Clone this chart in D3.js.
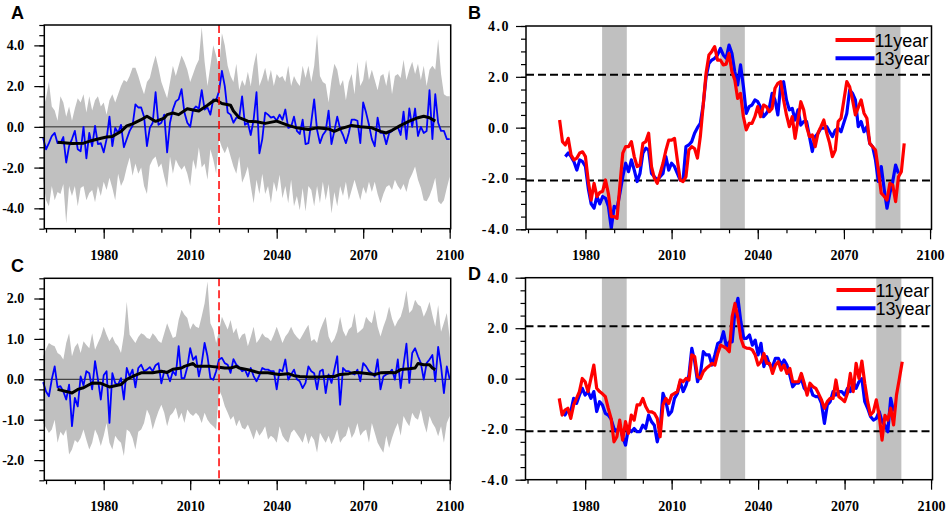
<!DOCTYPE html>
<html>
<head>
<meta charset="utf-8">
<script src="https://cdn.jsdelivr.net/npm/d3@7"></script>
<style>
  body { margin: 0; background: #fff; }
  svg { display: block; }
</style>
</head>
<body>
<div id="chart"></div>
<script>
const width = 948;
const height = 513;

// ---- panels A and C : annual values 1959-2100 ----
const firstYearAC = 1959;

const blueA = [
  -0.55,
  -1.1, -0.8, -0.45, -0.3, -0.8, -0.8, -0.5, -1.75, -0.95, -0.6,   // 1960s
  -0.2, -1.1, -1.2, 0.0, -1.55, -0.3, -0.95, 0.05, -0.85, -0.8,    // 1970s
  -1.25, -0.6, 0.5, -0.95, -0.05, -0.3, 0.1, -1.0, -0.6, -0.2,     // 1980s
  0.05, 1.1, 0.95, 0.95, 0.5, -0.95, -0.05, 0.2, 1.7, 0.1,         // 1990s
  0.2, 0.6, -1.25, 0.2, 0.85, 1.25, 1.35, 1.85, 0.7, 0.2,          // 2000s
  0.0, 0.85, 1.0, 0.9, 1.8, 0.85, 0.95, 0.6, 1.35, 1.3,            // 2010s
  1.75, 2.75, 2.0, 0.7, 0.6, 0.2, 0.45, 0.45, 1.5, 0.1,            // 2020s
  0.2, -0.4, 0.35, 1.7, -1.3, -0.6, 0.7, 0.6, 0.45, 0.5,           // 2030s
  0.3, 0.6, 0.35, 0.85, -0.05, 0.0, 0.5, -0.2, -0.35, 0.35,        // 2040s
  -0.85, -0.8, 0.25, 1.35, -0.15, -0.8, -0.4, -0.2, 0.8, -0.85,    // 2050s
  -0.2, 0.5, -0.1, -0.4, -0.8, -0.3, 0.35, 0.35, 0.3, -0.8,        // 2060s
  1.2, 0.7, 0.1, -0.6, -0.95, 0.45, -0.3, -0.3, -0.85, -0.3,       // 2070s
  -0.2, -0.1, 0.0, -0.4, 0.75, -0.6, 0.9, 0.0, 0.9, -0.45,         // 2080s
  0.0, -0.3, -0.2, 1.8, -0.6, 1.6, 0.2, -0.2, -0.2, -0.6,          // 2090s
  -0.6
];

const upperA = [
  0.9,
  1.4, 2.2, 1.0, 0.8, 0.3, 1.5, 1.2, 0.5, 1.0, 0.3,
  0.9, 1.4, 1.2, 1.6, 0.7, 1.5, 0.8, 1.3, 1.5, 1.0,
  1.2, 0.6, 1.3, 1.6, 1.2, 1.6, 2.0, 2.3, 2.2, 2.5,
  2.9, 2.9, 2.5, 2.0, 1.6, 2.2, 2.4, 3.0, 3.5, 2.9,
  2.2, 1.8, 1.4, 2.2, 3.0, 2.5, 3.0, 3.5, 3.2, 2.8,
  2.2, 2.6, 3.0, 3.3, 4.9, 3.2, 2.0, 3.0, 4.0, 3.5,
  2.8, 4.6, 4.0, 3.0, 2.5, 2.2, 3.1, 1.8, 2.3, 2.0,
  2.7, 2.0, 3.0, 3.65, 2.0, 2.4, 2.9, 2.2, 2.8, 2.0,
  2.6, 2.4, 2.5, 2.2, 3.0, 2.0, 2.5, 2.2, 2.0, 3.0,
  2.4, 3.0, 2.2, 3.0, 4.55, 2.5, 2.2, 2.1, 1.2, 2.3,
  3.1, 2.8, 2.0, 2.3, 1.3, 2.2, 2.6, 1.6, 3.2, 2.0,
  2.3, 3.3, 2.3, 2.8, 2.3, 1.8, 2.5, 2.6, 2.0, 2.8,
  1.6, 2.5, 2.6, 2.4, 3.3, 2.3, 2.8, 3.2, 2.6, 3.1,
  2.3, 3.0, 2.0, 2.8, 3.0, 2.8, 4.3, 2.6, 1.6, 1.5,
  1.5
];

const lowerA = [
  -2.6,
  -3.6, -3.9, -2.9, -3.6, -3.2, -3.3, -2.8, -4.75, -2.9, -3.4,
  -2.9, -3.9, -3.0, -2.9, -3.6, -3.25, -3.1, -3.7, -2.9, -3.4,
  -2.7, -3.1, -2.5, -3.0, -3.6, -2.3, -2.9, -2.6, -2.0, -1.5,
  -2.4, -1.8, -2.3, -2.0, -2.9, -3.3, -1.9, -1.6, -1.45, -2.0,
  -1.8, -2.45, -3.0, -1.45, -2.3, -1.6, -1.9, -2.1, -1.9, -2.3,
  -2.9, -1.6, -2.1, -1.0, -2.0, -1.8, -2.6, -1.1, -1.6, -2.3,
  -0.6, -1.0, -1.3, -0.95, -1.45, -1.95, -2.3, -1.45, -2.75, -2.4,
  -1.95, -2.9, -3.75, -2.6, -3.3, -2.3, -3.3, -2.9, -3.75, -2.7,
  -3.2, -2.35, -3.5, -2.9, -3.75, -2.6, -3.9, -3.4, -4.1, -3.0,
  -4.15, -2.9, -3.1, -3.9, -2.9, -3.75, -2.7, -3.6, -2.8, -4.25,
  -3.2, -3.9, -2.9, -3.4, -2.7, -3.6, -3.1, -2.6, -3.1, -3.6,
  -2.95, -3.3, -2.7, -3.2, -2.7, -3.3, -3.75, -3.3, -2.95, -2.85,
  -3.1, -2.6, -2.9, -3.1, -2.8, -3.2, -2.6, -2.3, -1.95, -2.6,
  -3.0, -3.6, -3.65, -3.4, -3.0, -2.5, -3.65, -3.8, -3.6, -3.0,
  -2.45
];

const smoothYearsA = [1964, 1966, 1969, 1973, 1975, 1978, 1981, 1983, 1986, 1988,
  1990, 1993, 1995, 1997, 1998, 2001, 2002, 2004, 2006, 2009,
  2011, 2013, 2016, 2018, 2019, 2021, 2024, 2025, 2027, 2030,
  2033, 2036, 2040, 2044, 2047, 2051, 2054, 2058, 2060, 2062,
  2066, 2069, 2073, 2076, 2078, 2080, 2083, 2086, 2089, 2091,
  2093, 2095];
const smoothA = [-0.76, -0.78, -0.82, -0.8, -0.71, -0.6, -0.5, -0.47, -0.23, 0.05,
  0.15, 0.35, 0.52, 0.35, 0.27, 0.43, 0.6, 0.68, 0.6, 0.89,
  0.83, 0.78, 1.06, 1.27, 1.32, 1.15, 1.06, 0.78, 0.45, 0.28,
  0.25, 0.17, 0.28, 0.07, -0.05, -0.13, -0.05, -0.1, -0.22, -0.1,
  0.07, 0.0, -0.05, -0.22, -0.3, -0.17, 0.07, 0.28, 0.45, 0.52,
  0.45, 0.28];

const blueC = [
  -0.07,
  -0.3, -0.42, 0.0, 0.32, -0.2, -0.17, -0.3, -0.5, -0.13, -1.16,
  -0.46, -0.67, 0.07, -0.15, 0.2, 0.15, -0.25, 0.45, 0.0, -0.5,
  0.1, 0.2, -1.08, 0.15, -0.1, -0.13, 0.03, -0.5, 0.28, 0.07,
  0.24, -0.2, 0.28, 0.36, 0.2, 0.24, 0.3, 0.2, 0.35, 0.4,
  -0.1, 0.2, 0.15, -0.05, 0.2, 0.1, 0.82, 0.03, 0.03, 0.3,
  0.77, 0.48, 0.57, 0.07, 0.4, 0.9, 0.57, 0.03, -0.01, 0.2,
  0.49, 0.53, 0.4, 0.36, 0.16, 0.5, 0.36, 0.3, 0.2, 0.24,
  0.07, 0.28, 0.08, -0.05, 0.1, 0.28, 0.24, 0.24, 0.2, 0.2,
  -0.25, 0.24, 0.2, 0.49, -0.01, 0.12, 0.24, 0.0, -0.05, -0.22,
  -0.09, 0.32, 0.2, 0.15, -0.25, 0.2, 0.24, -0.34, 0.12, -0.09,
  0.24, 0.57, -0.63, 0.28, 0.2, 0.2, 0.15, 0.12, 0.24, -0.05,
  0.4, 0.32, 0.2, 0.15, 0.07, 0.49, -0.25, 0.07, 0.12, 0.15,
  0.24, -0.01, 0.49, -0.22, 0.36, 0.88, -0.09, 0.65, 0.77, 0.57,
  0.4, -0.01, 0.4, 0.49, 0.6, -0.05, 0.8, 0.32, -0.34, 0.32,
  0.0
];

const upperC = [
  0.57,
  0.75, 0.9, 0.85, 0.82, 0.65, 0.6, 0.49, 0.9, 1.14, 0.57,
  0.8, 0.9, 0.65, 0.94, 0.85, 0.77, 1.14, 0.73, 0.9, 1.06,
  1.3, 1.1, 0.94, 1.06, 0.9, 0.82, 0.65, 1.1, 1.92, 1.1,
  1.0, 0.9, 1.05, 1.14, 1.1, 1.02, 1.0, 1.14, 1.06, 0.95,
  0.9, 1.14, 1.39, 1.2, 1.02, 1.06, 1.47, 1.72, 1.6, 1.52,
  1.23, 1.39, 1.3, 1.27, 1.56, 1.88, 2.42, 1.39, 1.23, 0.9,
  1.2, 1.55, 1.39, 1.23, 1.47, 1.14, 1.27, 0.98, 1.1, 1.14,
  0.82, 1.05, 1.3, 0.9, 1.0, 1.14, 1.05, 1.02, 0.94, 1.1,
  1.3, 1.1, 0.9, 1.06, 1.15, 1.3, 1.14, 1.05, 0.98, 1.1,
  1.23, 1.35, 0.94, 1.0, 0.9, 1.2, 1.39, 1.55, 1.06, 0.9,
  1.0, 1.19, 1.55, 1.2, 1.06, 1.23, 1.3, 1.64, 1.14, 1.2,
  1.27, 1.55, 1.45, 1.39, 1.72, 1.3, 1.06, 1.3, 1.5, 1.8,
  1.5, 1.3, 1.45, 1.55, 1.8, 2.2, 1.64, 1.72, 1.97, 1.85,
  1.8, 1.55, 1.7, 1.92, 1.59, 1.31, 1.84, 1.18, 1.4, 1.64,
  1.02
];

const lowerC = [
  -1.08,
  -1.2, -1.33, -1.24, -1.0, -1.57, -1.3, -1.4, -1.24, -1.86, -1.74,
  -1.5, -1.57, -1.45, -1.24, -1.5, -1.74, -1.57, -1.24, -1.4, -1.65,
  -1.4, -1.08, -1.57, -1.74, -1.4, -1.5, -1.57, -1.9, -1.24, -1.3,
  -1.45, -1.74, -1.3, -1.24, -1.08, -0.75, -0.9, -1.24, -1.0, -0.79,
  -0.63, -0.83, -1.16, -0.9, -0.83, -0.7, -0.99, -0.83, -1.08, -0.75,
  -0.85, -0.91, -0.83, -0.91, -1.08, -0.83, -1.0, -1.1, -1.16, -1.24,
  -0.26, -0.42, -0.67, -0.83, -1.0, -0.91, -1.16, -1.0, -1.2, -1.24,
  -1.12, -1.3, -1.49, -1.24, -1.4, -1.3, -1.16, -1.49, -1.4, -1.45,
  -1.57, -1.16, -1.4, -1.5, -1.57, -1.32, -1.24, -1.35, -1.45, -1.57,
  -1.32, -1.61, -1.4, -1.5, -1.82, -1.32, -1.45, -1.57, -1.4, -1.61,
  -1.45, -1.24, -1.57, -1.45, -1.4, -1.16, -1.45, -1.32, -1.08, -1.4,
  -1.3, -1.24, -1.57, -1.08, -1.32, -1.57, -1.7, -1.82, -1.4, -1.7,
  -1.45, -1.24, -1.08, -1.4, -0.91, -1.05, -1.16, -0.83, -0.95, -1.0,
  -0.75, -1.08, -1.32, -0.91, -1.08, -1.2, -1.41, -1.16, -1.57, -1.08,
  -0.91
];

const smoothYearsC = [1964, 1967, 1969, 1971, 1973, 1976, 1979, 1982, 1984, 1986,
  1988, 1990, 1993, 1997, 2000, 2002, 2004, 2007, 2008, 2011,
  2012, 2015, 2017, 2020, 2022, 2024, 2026, 2027, 2030, 2032,
  2034, 2037, 2039, 2041, 2044, 2046, 2048, 2051, 2055, 2058,
  2060, 2062, 2065, 2067, 2069, 2072, 2074, 2076, 2079, 2081,
  2083, 2086, 2088, 2089, 2091, 2093, 2094, 2095];
const smoothC = [-0.25, -0.3, -0.34, -0.25, -0.21, -0.09, -0.1, -0.19, -0.16, -0.13,
  0.0, 0.07, 0.16, 0.16, 0.2, 0.17, 0.25, 0.28, 0.32, 0.39,
  0.32, 0.32, 0.32, 0.3, 0.28, 0.28, 0.32, 0.28, 0.24, 0.2,
  0.16, 0.16, 0.14, 0.12, 0.14, 0.09, 0.07, 0.06, 0.06, 0.07,
  0.07, 0.12, 0.14, 0.17, 0.16, 0.14, 0.12, 0.16, 0.17, 0.16,
  0.24, 0.26, 0.28, 0.39, 0.36, 0.36, 0.28, 0.24];

const splitYear = 2020;

// ---- panels B and D : sliding t statistics ----
const firstYear11B = 1971;
const t11B = [
  0.3, -0.55, -0.68, -0.42, -1.08, -1.27, -1.2, -1.0, -0.95,        // 1971-79
  -1.14, -2.12, -2.85, -2.19, -2.71, -2.55, -2.5, -2.06, -2.6, -3.5,
  -3.5, -3.57, -2.26, -1.0, -0.75, -0.75, -0.55, -1.14, -1.53, -1.47,
  -0.62, -0.55, -0.22, -1.53, -1.99, -2.19, -1.8, -1.4, -0.9, -0.49,
  -0.49, -0.42, -1.27, -2.06, -2.12, -1.93, -0.88, -0.75, -0.82, -1.2,
  -0.35, 0.89, 2.14, 2.86, 3.0, 3.19, 2.66, 2.66, 2.47, 2.5,
  2.92, 2.2, 1.88, 1.15, 1.35, 0.43, -0.09, 0.17, 0.17, 0.43,
  0.83, 0.43, 0.89, 0.83, 0.63, 0.76, 1.55, 1.74, 1.81, 1.09,
  0.5, 0.04, 0.43, -0.42, 0.3, 1.02, 0.7, 0.04, -0.35, -0.29,
  -0.75, -0.2, 0.04, 0.3, -0.2, -0.6, -1.14, -0.88, 0.24, 0.37,
  1.09, 1.81, 1.61, 1.09, 0.5, 0.8, 1.09, 0.57, 0.37, -0.62,
  -0.75, -0.88, -1.67, -2.58, -2.7, -2.85, -2.19, -2.26, -2.91, -1.93,
  -1.73, -0.62
];

const firstYear13B = 1973;
const t13B = [
  -1.14, -1.0, -1.14, -1.34, -1.67, -1.27, -1.34,                    // 1973-79
  -1.53, -2.4, -3.0, -3.17, -2.7, -3.0, -2.71, -2.78, -3.1, -3.96,
  -3.1, -3.17, -2.58, -1.93, -1.4, -1.73, -1.27, -1.67, -2.12, -1.8,
  -1.0, -0.81, -0.88, -1.8, -1.93, -2.06, -1.93, -1.8, -1.14, -1.67,
  -1.4, -1.53, -1.8, -2.06, -2.06, -0.75, -0.68, -0.55, -0.22, 0.0,
  0.17, 0.89, 2.0, 2.53, 2.66, 2.73, 2.86, 3.12, 2.86, 2.73,
  3.25, 2.93, 2.2, 1.68, 2.47, 1.62, 0.56, 0.83, 0.89, 1.09,
  1.02, 0.8, 0.43, 0.56, 0.76, 1.35, 1.09, 0.5, 1.68, 1.81,
  1.09, 0.7, 0.76, 0.3, 0.7, 0.1, 0.24, 0.24, -0.35, -0.94,
  -0.35, -0.22, -0.02, -0.02, 0.04, -0.16, -0.35, -0.1, -0.02, -0.16,
  0.2, 0.56, 1.48, 1.35, 1.09, 0.04, 0.24, -0.16, 0.04, -0.62,
  -0.75, -1.27, -2.12, -1.53, -2.4, -3.17, -2.58, -2.12, -1.47, -1.8
];

const firstYear11D = 1971;
const t11D = [
  -0.78, -1.44, -1.24, -1.17, -1.57, -1.04, -0.78, -0.51, 0.01,      // 1971-79
  -0.12, -0.51, 0.0, 0.54, -0.38, -0.51, -0.6, -0.71, -1.17, -1.57,
  -2.5, -2.3, -1.64, -2.43, -1.7, -2.17, -1.44, -1.64, -1.04, -1.04,
  -0.78, -1.1, -1.31, -1.31, -1.37, -1.57, -2.3, -1.04, -0.78, -0.98,
  -0.65, -0.58, -0.51, -0.05, -0.12, 0.01, -0.05, 0.94, 0.87, 0.08,
  0.01, 0.28, 0.41, 0.5, 0.61, 0.54, 1.0, 1.33, 1.27, 1.2,
  1.07, 2.46, 2.98, 2.39, 1.6, 1.27, 1.21, 1.2, 1.14, 0.94,
  0.54, 0.67, 1.0, 0.61, 0.61, 0.21, 0.54, 0.67, 0.34, 0.54,
  0.21, 0.41, -0.12, -0.12, -0.12, 0.21, -0.18, -0.65, -0.18, -0.31,
  -0.38, -0.6, -0.84, -1.17, -0.91, -0.78, -0.78, -0.05, -0.71, -0.8,
  -0.91, -0.58, 0.21, -0.51, 0.61, 0.01, 0.7, -0.18, -0.91, -1.44,
  -1.31, -0.84, -1.44, -2.43, -1.45, -1.64, -1.17, -1.83, -0.65, 0.0,
  0.67
];

const firstYear13D = 1972;
const t13D = [
  -1.3, -1.44, -1.24, -1.3, -0.78, -0.98, -0.65, -0.38,              // 1972-79
  -0.65, -0.51, -0.78, -0.51, -1.3, -0.91, -1.04, -1.37, -1.44, -1.6,
  -1.97, -2.1, -1.84, -2.3, -2.63, -1.97, -2.1, -1.97, -2.1, -2.1,
  -1.84, -1.97, -1.44, -1.7, -1.84, -2.5, -2.0, -0.58, -0.9, -1.44,
  -1.3, -0.78, -0.58, -0.12, -0.51, -0.25, 0.14, 1.2, 0.67, -0.12,
  0.21, 1.07, 0.94, 0.94, 0.54, 0.94, 1.4, 1.46, 1.86, 1.27,
  1.46, 1.46, 2.72, 3.18, 2.26, 1.6, 1.6, 1.73, 1.33, 1.53,
  0.94, 1.4, 0.48, 0.87, 0.54, 0.48, 0.81, 0.81, 0.54, 0.74,
  0.54, 0.14, -0.32, -0.18, -0.18, 0.01, -0.38, -0.51, -0.32, -0.65,
  -0.71, -0.71, -0.98, -1.77, -1.04, -0.91, -0.51, -0.65, -0.51, -0.51,
  -0.65, -0.38, -0.51, -0.12, -0.38, -0.12, 0.0, -0.91, -1.17, -1.5,
  -1.64, -1.57, -1.3, -1.7, -1.84, -2.1, -0.78, -1.3
];

const criticalT = 2.08;
const shadeWindows = [[1985.8, 1994.4], [2026.9, 2035.5], [2081, 2089.7]];

const legendNames = ['11year', '13year'];

// axis ticks
const yearMajor = [1980, 2010, 2040, 2070, 2100];
const yearMinor = d3.range(1960, 2101, 10);

const svg = d3.select('#chart')
  .append('svg')
  .attr('width', width)
  .attr('height', height);

const serif = '"Liberation Serif", "Times New Roman", serif';
const sans = '"Liberation Sans", Arial, sans-serif';

function toPoints(firstYear, values) {
  return values.map((v, i) => ({ year: firstYear + i, v: v }));
}

function drawAxes(g, box, x, y, yMajor, yMinor, labelGap, labelSpacing) {
  // minor ticks first
  g.append('g')
    .attr('transform', `translate(0,${box.bottom})`)
    .call(d3.axisBottom(x).tickValues(yearMinor).tickSize(4).tickFormat(''))
    .call(a => a.select('.domain').remove());

  g.append('g')
    .attr('transform', `translate(0,${box.bottom})`)
    .call(d3.axisBottom(x).tickValues(yearMajor).tickSize(10).tickPadding(11).tickFormat(d3.format('d')))
    .call(a => a.select('.domain').remove())
    .attr('font-family', serif)
    .attr('font-size', 14)
    .attr('font-weight', 'bold');

  g.append('g')
    .attr('transform', `translate(${box.left},0)`)
    .call(d3.axisLeft(y).tickValues(yMinor).tickSize(5).tickFormat(''))
    .call(a => a.select('.domain').remove());

  g.append('g')
    .attr('transform', `translate(${box.left},0)`)
    .call(d3.axisLeft(y).tickValues(yMajor).tickSize(10).tickPadding(labelGap)
      .tickFormat(v => v.toFixed(1)))
    .call(a => a.select('.domain').remove())
    .attr('font-family', serif)
    .attr('font-size', 14)
    .attr('font-weight', 'bold')
    .selectAll('text')
    .attr('letter-spacing', labelSpacing);

  g.selectAll('.tick line').attr('stroke', '#000').attr('stroke-width', 1.2);
  g.selectAll('.tick text').attr('fill', '#000');

  g.append('rect')
    .attr('x', box.left)
    .attr('y', box.top)
    .attr('width', box.right - box.left)
    .attr('height', box.bottom - box.top)
    .attr('fill', 'none')
    .attr('stroke', '#000')
    .attr('stroke-width', 1.5);
}

function drawSeriesPanel(box, letter, blue, upper, lower, smoothYears, smooth, yDomain, yMajor, yMinor) {
  const g = svg.append('g');
  const x = d3.scaleLinear().domain([1959.4, 2100.35]).range([box.left, box.right]);
  const y = d3.scaleLinear().domain(yDomain).range([box.bottom, box.top]);

  const band = upper.map((u, i) => ({ year: firstYearAC + i, hi: u, lo: lower[i] }));
  const area = d3.area()
    .x(d => x(d.year))
    .y0(d => y(d.lo))
    .y1(d => y(d.hi));

  g.append('path')
    .datum(band)
    .attr('d', area)
    .attr('fill', '#c0c0c0');

  g.append('line')
    .attr('x1', box.left).attr('x2', box.right)
    .attr('y1', y(0)).attr('y2', y(0))
    .attr('stroke', '#000')
    .attr('stroke-width', 0.8);

  const line = d3.line()
    .x(d => x(d.year))
    .y(d => y(d.v));

  g.append('path')
    .datum(toPoints(firstYearAC, blue))
    .attr('d', line)
    .attr('fill', 'none')
    .attr('stroke', '#0000ff')
    .attr('stroke-width', 1.8)
    .attr('stroke-linejoin', 'round');

  g.append('path')
    .datum(smoothYears.map((yr, i) => ({ year: yr, v: smooth[i] })))
    .attr('d', line)
    .attr('fill', 'none')
    .attr('stroke', '#000')
    .attr('stroke-width', 3)
    .attr('stroke-linejoin', 'round');

  g.append('line')
    .attr('x1', x(splitYear)).attr('x2', x(splitYear))
    .attr('y1', box.top).attr('y2', box.bottom)
    .attr('stroke', '#ff0000')
    .attr('stroke-width', 1.5)
    .attr('stroke-dasharray', '8,4');

  drawAxes(g, box, x, y, yMajor, yMinor, 10, 0);

  svg.append('text')
    .attr('x', 11)
    .attr('y', box.top - 6.5)
    .attr('font-family', sans)
    .attr('font-weight', 'bold')
    .attr('font-size', 18)
    .text(letter);
}

function drawTestPanel(box, letter, letterY, first11, s11, first13, s13, legendTop) {
  const g = svg.append('g');
  const x = d3.scaleLinear().domain([1959.3, 2100.5]).range([box.left, box.right]);
  const y = d3.scaleLinear().domain([-4, 4]).range([box.bottom, box.top]);

  g.selectAll('rect.shade')
    .data(shadeWindows)
    .join('rect')
    .attr('class', 'shade')
    .attr('x', d => x(d[0]))
    .attr('width', d => x(d[1]) - x(d[0]))
    .attr('y', box.top)
    .attr('height', box.bottom - box.top)
    .attr('fill', '#c0c0c0');

  g.selectAll('line.crit')
    .data([criticalT, -criticalT])
    .join('line')
    .attr('class', 'crit')
    .attr('x1', box.left).attr('x2', box.right)
    .attr('y1', d => y(d)).attr('y2', d => y(d))
    .attr('stroke', '#000')
    .attr('stroke-width', 2)
    .attr('stroke-dasharray', '8,4');

  const line = d3.line()
    .x(d => x(d.year))
    .y(d => y(d.v));

  g.append('path')
    .datum(toPoints(first13, s13))
    .attr('d', line)
    .attr('fill', 'none')
    .attr('stroke', '#0000ff')
    .attr('stroke-width', 3.2)
    .attr('stroke-linejoin', 'round');

  g.append('path')
    .datum(toPoints(first11, s11))
    .attr('d', line)
    .attr('fill', 'none')
    .attr('stroke', '#ff0000')
    .attr('stroke-width', 3.2)
    .attr('stroke-linejoin', 'round');

  drawAxes(g, box, x, y, [-4, -2, 0, 2, 4], d3.range(-4, 4.01, 0.5), 6, 1.5);

  // legend
  const legendColors = ['#ff0000', '#0000ff'];
  legendNames.forEach((name, i) => {
    const ly = legendTop + i * 18.3;
    svg.append('line')
      .attr('x1', box.right - 96).attr('x2', box.right - 57)
      .attr('y1', ly).attr('y2', ly)
      .attr('stroke', legendColors[i])
      .attr('stroke-width', 4);
    svg.append('text')
      .attr('x', box.right - 57)
      .attr('y', ly + 6.5)
      .attr('font-family', sans)
      .attr('font-size', 18)
      .attr('fill', '#000')
      .text(name);
  });

  svg.append('text')
    .attr('x', 468)
    .attr('y', letterY)
    .attr('font-family', sans)
    .attr('font-weight', 'bold')
    .attr('font-size', 18)
    .text(letter);
}

drawSeriesPanel({ left: 44.3, right: 450.7, top: 25, bottom: 228.7 }, 'A',
  blueA, upperA, lowerA, smoothYearsA, smoothA, [-5, 5],
  [-4, -2, 0, 2, 4], d3.range(-5, 5.01, 0.5));

drawSeriesPanel({ left: 44.3, right: 450.7, top: 278.3, bottom: 480.3 }, 'C',
  blueC, upperC, lowerC, smoothYearsC, smoothC, [-2.5, 2.5],
  [-2, -1, 0, 1, 2], d3.range(-2.5, 2.51, 0.25));

drawTestPanel({ left: 526, right: 931.5, top: 26, bottom: 229.3 }, 'B', 18.5,
  firstYear11B, t11B, firstYear13B, t13B, 40);

drawTestPanel({ left: 525.5, right: 932.5, top: 277.7, bottom: 479.7 }, 'D', 280,
  firstYear11D, t11D, firstYear13D, t13D, 290);
</script>
</body>
</html>
